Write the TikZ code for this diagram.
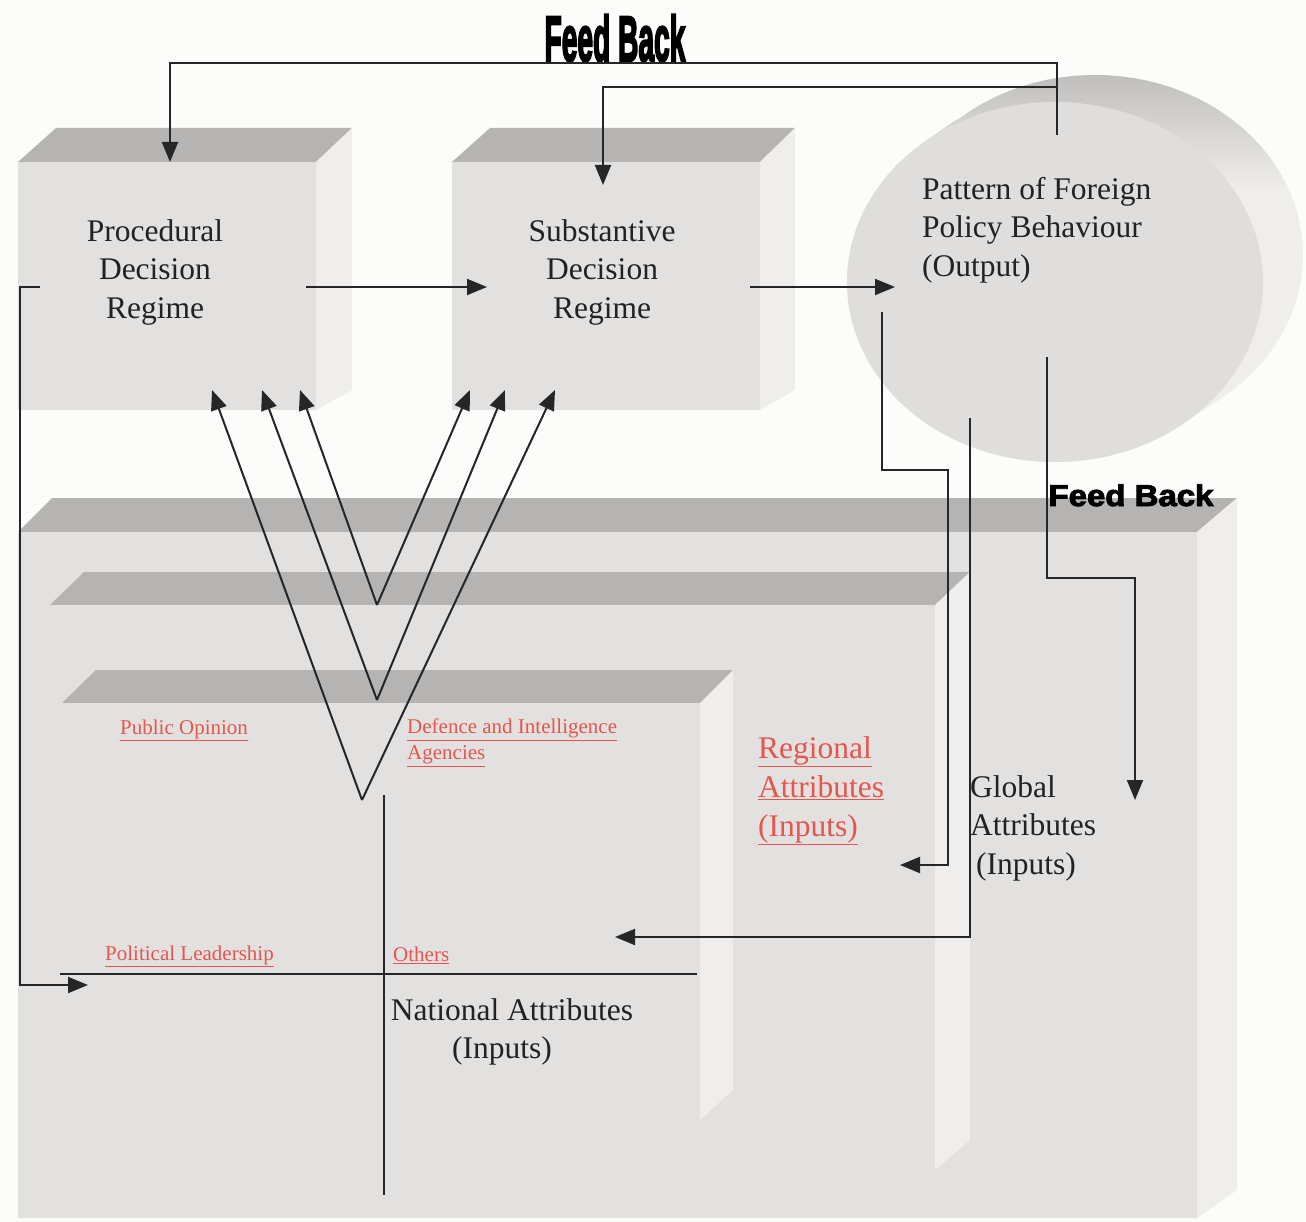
\documentclass[tikz,border=0pt]{standalone}
\usepackage{fontspec}
\setmainfont{Liberation Serif}
\newfontfamily\fbfont{Liberation Sans}[BoldFeatures={FakeBold=3}]
\newfontfamily\fbheavy{Liberation Sans}[BoldFeatures={FakeBold=4}]
\usetikzlibrary{arrows.meta}
\definecolor{bg}{HTML}{FCFCFA}
\definecolor{frontc}{HTML}{E3E1DF}
\definecolor{topc}{HTML}{B6B4B2}
\definecolor{sidec}{HTML}{EFEEEC}
\definecolor{linec}{HTML}{262626}
\definecolor{txtc}{HTML}{222222}
\definecolor{redc}{HTML}{E4564E}
\definecolor{discc}{HTML}{DFDEDC}
\definecolor{discdark}{HTML}{BFBDBB}
\tikzset{
  conn/.style={line width=2, draw=linec},
  arr/.style={conn, -{Triangle[length=20,width=16]}},
  biglabel/.style={inner sep=0, text=txtc, font=\fontsize{31.5}{38.5}\selectfont},
  redlabel/.style={inner sep=0, text=redc, font=\fontsize{21}{26}\selectfont, align=left, anchor=west},
  redbig/.style={inner sep=0, text=redc, font=\fontsize{31.5}{39}\selectfont, align=left},
}
\begin{document}
\begin{tikzpicture}[x=1pt,y=-1pt]
\useasboundingbox (0,0) rectangle (1306,1222);
\fill[bg] (0,0) rectangle (1306,1222);

% ---------- big back box (global)
\fill[topc] (18,532)--(52,498)--(1237,498)--(1197,532)--cycle;
\fill[sidec] (1197,532)--(1237,498)--(1237,1190)--(1197,1218)--cycle;
\fill[frontc] (18,532) rectangle (1197,1218);
% ---------- middle box (regional)
\fill[topc] (50,605)--(84,572)--(970,572)--(935,605)--cycle;
\fill[sidec] (935,605)--(970,572)--(970,1140)--(935,1170)--cycle;
\fill[frontc] (50,605) rectangle (935,1170);
% ---------- inner box (national)
\fill[topc] (62,703)--(96,670)--(733,670)--(700,703)--cycle;
\fill[sidec] (700,703)--(733,670)--(733,1090)--(700,1120)--cycle;
\fill[frontc] (62,703) rectangle (700,1120);

% ---------- box 1
\fill[topc] (18,162)--(56,128)--(352,128)--(316,162)--cycle;
\fill[sidec] (316,162)--(352,128)--(352,390)--(316,410)--cycle;
\fill[frontc] (18,162) rectangle (316,410);
% ---------- box 2
\fill[topc] (452,162)--(490,128)--(795,128)--(760,162)--cycle;
\fill[sidec] (760,162)--(795,128)--(795,390)--(760,410)--cycle;
\fill[frontc] (452,162) rectangle (760,410);

% ---------- disc (output)
\begin{scope}
  \clip (1055,282) ellipse [x radius=208, y radius=180]
        (1065,275) ellipse [x radius=208, y radius=180]
        (1075,268) ellipse [x radius=208, y radius=180]
        (1085,262) ellipse [x radius=208, y radius=180]
        (1095,255) ellipse [x radius=208, y radius=180];
  \shade[top color=discdark, bottom color=sidec] (820,70) rectangle (1310,190);
  \fill[sidec] (820,190) rectangle (1310,470);
\end{scope}
\fill[discc] (1055,282) ellipse [x radius=208, y radius=180];

% ---------- text nodes
\node[biglabel, align=center] (proc) at (155,272) {Procedural\\Decision\\Regime};
\node[biglabel, align=center] (subst) at (602,272) {Substantive\\Decision\\Regime};
\node[biglabel, align=left, anchor=north west] (out) at (922,177) {Pattern of Foreign\\Policy Behaviour\\(Output)};
\node[redbig, anchor=north west] (reg) at (758,736) {\underline{Regional}\\\underline{Attributes}\\\underline{(Inputs)}};
\node[biglabel, align=left, anchor=north west] (glob) at (970,775) {Global\\Attributes\\\hspace{6pt}(Inputs)};
\node[biglabel, align=center] (nat) at (512,1032) {National Attributes\\\hspace{-20pt}(Inputs)};
\node[redlabel] (pub) at (120,730) {\underline{Public Opinion}};
\node[redlabel, anchor=north west] (def) at (407,719) {\underline{Defence and Intelligence}\\\underline{Agencies}};
\node[redlabel] (pol) at (105,956) {\underline{Political Leadership}};
\node[redlabel] (oth) at (393,955) {\underline{Others}};
\node[inner sep=0, anchor=base, text=black] (fb1) at (615,61)
  {\scalebox{0.44}[1]{\fontsize{64}{64}\fbheavy\bfseries Feed Back}};
\node[inner sep=0, anchor=base, text=black] (fb2) at (1131,506)
  {\scalebox{1.1}[1]{\fontsize{30}{30}\fbfont\bfseries Feed Back}};

% ---------- connector coordinates
\coordinate (t1) at (1057,135);
\coordinate (t1a) at (1057,63);
\coordinate (t1b) at (170,63);
\coordinate (h1) at (170,162);
\coordinate (t2a) at (1057,87);
\coordinate (t2b) at (603,87);
\coordinate (h2) at (603,185);
\coordinate (p1) at (306,287);
\coordinate (p2) at (487,287);
\coordinate (s1) at (750,287);
\coordinate (s2) at (895,287);
\coordinate (l0) at (40,287);
\coordinate (l1) at (20,287);
\coordinate (l2) at (20,985);
\coordinate (l3) at (88,985);
\coordinate (hx1) at (60,974);
\coordinate (hx2) at (697,974);
\coordinate (vx1) at (384,795);
\coordinate (vx2) at (384,1195);
\coordinate (va) at (377,605);
\coordinate (vb) at (377,700);
\coordinate (vc) at (362,800);
\coordinate (a1) at (212,390);
\coordinate (a2) at (262,390);
\coordinate (a3) at (300,390);
\coordinate (a4) at (470,390);
\coordinate (a5) at (505,390);
\coordinate (a6) at (555,390);
\coordinate (r0) at (882,312);
\coordinate (r1) at (882,470);
\coordinate (r2) at (948,470);
\coordinate (r3) at (948,865);
\coordinate (r4) at (900,865);
\coordinate (n0) at (970,418);
\coordinate (n1) at (970,937);
\coordinate (n2) at (615,937);
\coordinate (g0) at (1047,357);
\coordinate (g1) at (1047,578);
\coordinate (g2) at (1135,578);
\coordinate (g3) at (1135,800);

% ---------- connectors
\draw[arr] (t1) -- (t1a) -- (t1b) -- (h1);
\draw[arr] (t2a) -- (t2b) -- (h2);
\draw[arr] (p1) -- (p2);
\draw[arr] (s1) -- (s2);
\draw[arr] (l0) -- (l1) -- (l2) -- (l3);
\draw[conn] (hx1) -- (hx2);
\draw[conn] (vx1) -- (vx2);
\draw[arr] (va) -- (a3);
\draw[arr] (va) -- (a4);
\draw[arr] (vb) -- (a2);
\draw[arr] (vb) -- (a5);
\draw[arr] (vc) -- (a1);
\draw[arr] (vc) -- (a6);
\draw[arr] (r0) -- (r1) -- (r2) -- (r3) -- (r4);
\draw[arr] (n0) -- (n1) -- (n2);
\draw[arr] (g0) -- (g1) -- (g2) -- (g3);
\end{tikzpicture}
\end{document}
